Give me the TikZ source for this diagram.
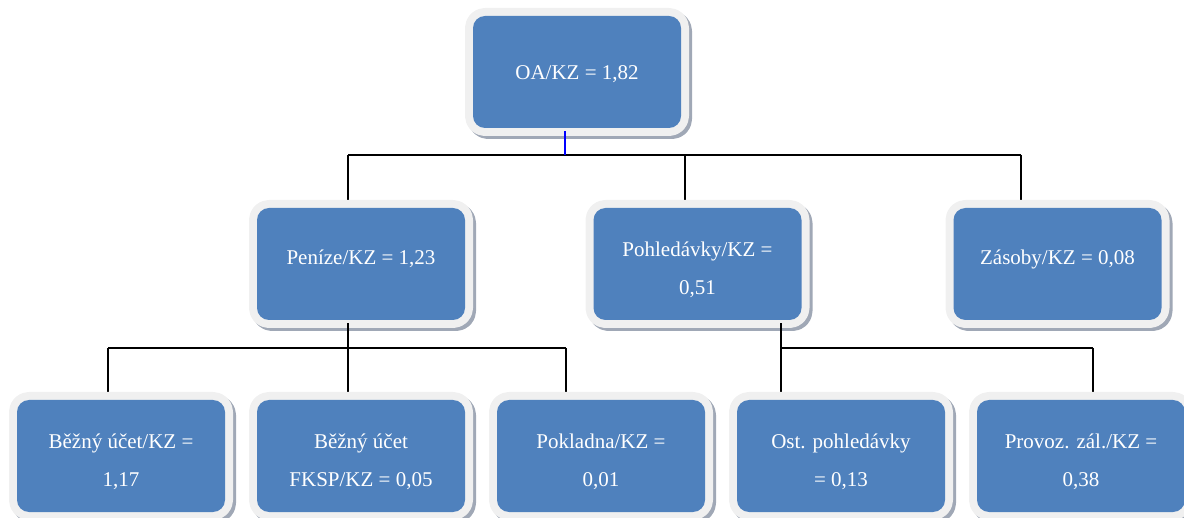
\documentclass[tikz,border=0pt]{standalone}
\usepackage{fontspec}
\setmainfont{Liberation Serif}
\usetikzlibrary{backgrounds}
\definecolor{boxblue}{RGB}{79,129,189}
\definecolor{boxrim}{RGB}{240,240,240}
\definecolor{boxshade}{RGB}{160,168,182}
\tikzset{
  box/.style={rounded corners=12pt, minimum width=208pt, minimum height=112pt,
    inner sep=0pt, fill=boxblue,
    preaction={draw=boxshade, line width=16pt, line join=round,
      transform canvas={shift={(3pt,-3pt)}}},
    preaction={draw=boxrim, line width=16pt, line join=round}},
  txt/.style={text=white, align=center, inner sep=0pt,
    font=\fontsize{21}{38}\selectfont},
  link/.style={line width=1.6pt, draw=black},
  bluelink/.style={line width=1.6pt, draw=blue}
}
\begin{document}
\begin{tikzpicture}[x=1pt,y=-1pt]
\useasboundingbox (0,0) rectangle (1184,518);
% level 1
\node[box] (top) at (577,72) {};
% level 2
\node[box] (pen) at (361,264) {};
\node[box] (poh) at (697.5,264) {};
\node[box] (zas) at (1057.5,264) {};
% level 3
\node[box] (bu) at (121,456) {};
\node[box] (fk) at (361,456) {};
\node[box] (pk) at (601,456) {};
\node[box] (op) at (841,456) {};
\node[box] (pz) at (1081,456) {};
% texts
\node[txt] (top-t) at ([yshift=-2pt]top.center) {OA/KZ = 1,82};
\node[txt] (pen-t) at ([yshift=5pt]pen.center) {Peníze/KZ = 1,23};
\node[txt] (poh-t) at ([yshift=-6pt]poh.center) {Pohledávky/KZ =\\0,51};
\node[txt] (zas-t) at ([yshift=5pt]zas.center) {Zásoby/KZ = 0,08};
\node[txt] (bu-t) at ([yshift=-6pt]bu.center) {Běžný účet/KZ =\\1,17};
\node[txt] (fk-t) at ([yshift=-6pt]fk.center) {Běžný účet\\FKSP/KZ = 0,05};
\node[txt] (pk-t) at ([yshift=-6pt]pk.center) {Pokladna/KZ =\\0,01};
\node[txt] (op-t) at ([yshift=-6pt]op.center) {Ost. pohledávky\\= 0,13};
\node[txt] (pz-t) at ([yshift=-6pt]pz.center) {Provoz. zál./KZ =\\0,38};
% junction coordinates
\coordinate (j0) at (565,155);
\coordinate (hA) at (348,155);
\coordinate (hB) at (685,155);
\coordinate (hC) at (1021,155);
\coordinate (gA) at (108,348);
\coordinate (gB) at (348,348);
\coordinate (gC) at (566,348);
\coordinate (kA) at (781,348);
\coordinate (kB) at (1093,348);
\begin{pgfonlayer}{background}
\draw[link] (hA) -- (hA |- pen.north);
\draw[link] (hB) -- (hB |- poh.north);
\draw[link] (hC) -- (hC |- zas.north);
\draw[link] (gA) -- (gA |- bu.north);
\draw[link] (gB) -- (gB |- fk.north);
\draw[link] (gC) -- (gC |- pk.north);
\draw[link] (kA) -- (kA |- op.north);
\draw[link] (kB) -- (kB |- pz.north);
\end{pgfonlayer}
\draw[link] (hA) -- (hC);
\draw[link] (gA) -- (gC);
\draw[link] (kA) -- (kB);
\draw[link] ([yshift=-3pt]pen.south -| gB) -- (gB);
\draw[link] ([yshift=-3pt]poh.south -| kA) -- (kA);
\draw[bluelink] ([yshift=-3pt]top.south -| j0) -- (j0);
\end{tikzpicture}
\end{document}
